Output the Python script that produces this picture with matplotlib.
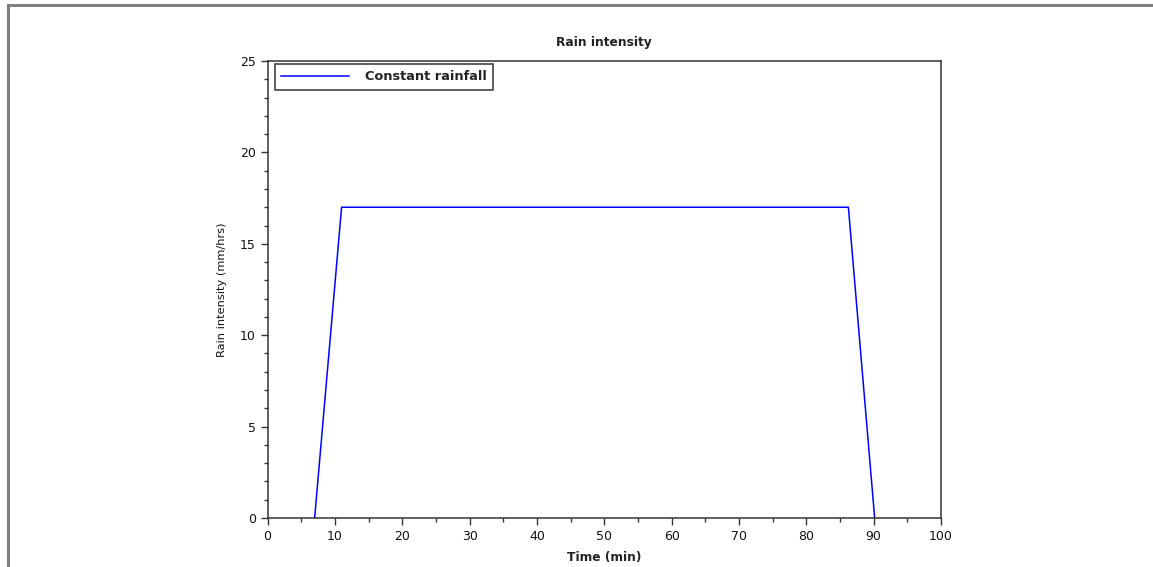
import matplotlib.pyplot as plt
from matplotlib.patches import Rectangle
from matplotlib.ticker import MultipleLocator

# Rainfall hydrograph: ramp up, constant, ramp down
time_min = [7, 11, 86.25, 90.15]
rain_mm_hr = [0, 17, 17, 0]

fig = plt.figure(figsize=(11.53, 5.67), dpi=100)
fig.patch.set_facecolor('white')

# window frame (gray line at top and left)
fig.add_artist(Rectangle((7.5 / 1153, -0.1), 1.2, 1.1 - 4.5 / 567,
                         transform=fig.transFigure, fill=False,
                         edgecolor='#808080', linewidth=2.2))

ax = fig.add_axes([267.5 / 1153, 1 - 518 / 567, (941 - 267.5) / 1153, (518 - 61) / 567])
ax.plot(time_min, rain_mm_hr, color='#0000ff', linewidth=1.1, label='Constant rainfall')

ax.set_xlim(0, 100)
ax.set_ylim(0, 25)
ax.xaxis.set_major_locator(MultipleLocator(10))
ax.xaxis.set_minor_locator(MultipleLocator(5))
ax.yaxis.set_major_locator(MultipleLocator(5))
ax.yaxis.set_minor_locator(MultipleLocator(1))

ax.tick_params(which='both', direction='out', colors='#333333', labelcolor='#111111',
               labelsize=9, top=False, right=False)
ax.tick_params(which='major', length=5, width=1)
ax.tick_params(which='minor', length=3, width=1)
for s in ax.spines.values():
    s.set_color('#333333')
    s.set_linewidth(1.1)

ax.set_title('Rain intensity', fontsize=8.8, fontweight='bold', pad=11, color='#222222')
ax.set_xlabel('Time (min)', fontsize=8.8, fontweight='bold', labelpad=6, color='#222222')
ax.set_ylabel('Rain intensity (mm/hrs)', fontsize=8.2, labelpad=9, color='#111111')

leg = ax.legend(loc='upper left', bbox_to_anchor=(0.0111, 0.9934), borderaxespad=0,
                prop={'size': 9.3, 'weight': 'bold'}, fancybox=False, framealpha=1,
                edgecolor='#333333', handlelength=5.2, handletextpad=1.25, borderpad=0.5)
for t in leg.get_texts():
    t.set_color('#222222')
leg.get_frame().set_linewidth(1.1)

fig.savefig('out.png', dpi=100)
